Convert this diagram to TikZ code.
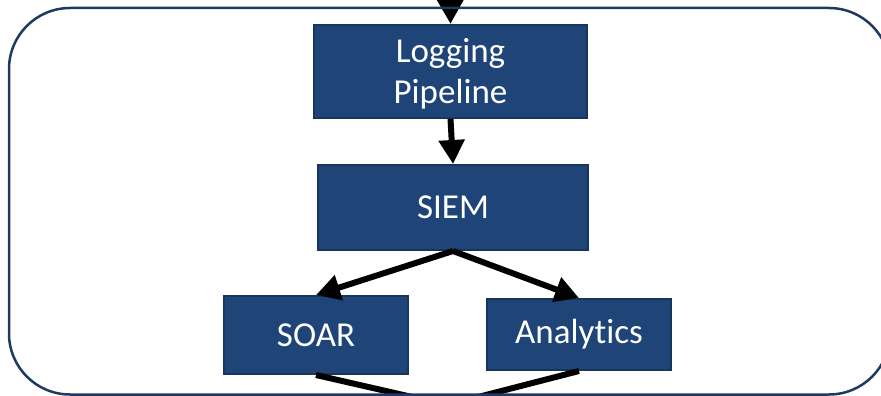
\documentclass[tikz,border=0pt]{standalone}
\usepackage{fontspec}
\setmainfont[Ligatures=NoCommon]{Carlito}
\usetikzlibrary{arrows.meta}
\definecolor{boxfill}{HTML}{1F4478}
\definecolor{boxedge}{HTML}{17365D}
\definecolor{frameedge}{HTML}{1E3A60}
\tikzset{
  stage/.style={draw=boxedge, line width=2pt, fill=boxfill, text=white,
    inner sep=0pt, align=center, font=\fontsize{35}{41}\selectfont},
  flow/.style={line width=6pt, -{Triangle[length=24pt,width=25pt]}},
  flowline/.style={line width=6pt},
  frame/.style={draw=frameedge, line width=2.5pt, rounded corners=61pt}
}
\begin{document}
\begin{tikzpicture}[x=1pt,y=-1pt]
  \useasboundingbox (0,0) rectangle (881,396);
  % processing stages
  \node[stage, minimum width=273pt, minimum height=93pt] (log) at (450.5,71.5) {};
  \node[text=white, align=center, inner sep=0pt, font=\fontsize{35}{41}\selectfont]
    at ([yshift=-2pt]log.center) {Logging\\Pipeline};
  \node[stage, minimum width=270pt, minimum height=85pt] (siem) at (453,207.5) {SIEM};
  \node[stage, minimum width=184pt, minimum height=78pt] (soar) at (316,335) {\raisebox{-2pt}{SOAR}};
  \node[stage, minimum width=184pt, minimum height=71pt] (ana) at (579,334.5) {\raisebox{-2pt}{Analytics}};
  \coordinate (src) at (450,-30);
  \coordinate (sink) at (447,405);
  % connectors
  \draw[flow] (src) -- (log.north);
  \draw[flow] (log.south) -- (siem.north);
  \draw[flow] (siem.south) -- (soar.north);
  \draw[flow] (siem.south) -- (ana.north);
  \draw[flowline] (soar.south) -- (sink);
  \draw[flowline] (ana.south) -- (sink);
  % enclosing frame
  \draw[frame] (9,8) rectangle (890,394.5);
\end{tikzpicture}
\end{document}
